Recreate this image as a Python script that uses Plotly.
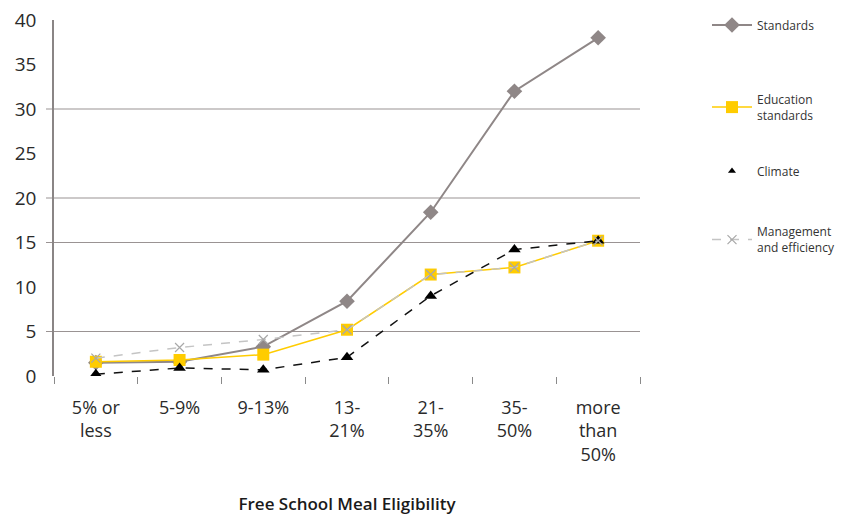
import plotly.graph_objects as go

categories = ["5% or<br>less", "5-9%", "9-13%", "13-<br>21%", "21-<br>35%", "35-<br>50%", "more<br>than<br>50%"]
standards = [1.5, 1.6, 3.3, 8.4, 18.4, 32.0, 38.0]
education_standards = [1.6, 1.8, 2.4, 5.2, 11.4, 12.2, 15.2]
climate = [0.2, 0.9, 0.7, 2.1, 9.0, 14.2, 15.2]
management = [2.0, 3.2, 4.1, 5.2, 11.4, 12.2, 15.2]
y_ticks = [0, 5, 10, 15, 20, 25, 30, 35, 40]
grid_values = [5, 15, 20, 30]

FONT = "Open Sans"
fig = go.Figure()

fig.add_trace(go.Scatter(
    x=categories, y=standards, name="Standards", mode="lines+markers",
    line=dict(color="#8f8787", width=2),
    marker=dict(symbol="diamond", size=12, color="#8f8787"),
    legend="legend"))
fig.add_trace(go.Scatter(
    x=categories, y=education_standards, name="Education<br>standards", mode="lines+markers",
    line=dict(color="#ffcc00", width=1.5),
    marker=dict(symbol="square", size=12, color="#ffcc00"),
    legend="legend2"))
fig.add_trace(go.Scatter(
    x=categories, y=climate, name="Climate", mode="lines+markers",
    line=dict(color="#111111", width=1.5, dash="dash"),
    marker=dict(symbol="triangle-up", size=11, color="#000000"),
    showlegend=False))
fig.add_trace(go.Scatter(
    x=[None], y=[None], name="Climate", mode="markers",
    marker=dict(symbol="triangle-up", size=7, color="#000000"),
    legend="legend3"))
fig.add_trace(go.Scatter(
    x=categories, y=management, name="Management<br>and efficiency", mode="lines+markers",
    line=dict(color="#c4c4c4", width=1.5, dash="dash"),
    marker=dict(symbol="x-thin", size=9, color="#a8a8a8", line=dict(width=1.2, color="#a8a8a8")),
    legend="legend4"))

for v in grid_values:
    fig.add_shape(type="line", xref="paper", yref="y", x0=-8/586, x1=1, y0=v, y1=v,
                  line=dict(color="#9a9393", width=1.2), layer="below")


def leg(ycenter):
    return dict(xref="container", yref="container", x=699/860, y=1 - ycenter/517,
                xanchor="left", yanchor="middle", bgcolor="rgba(0,0,0,0)",
                font=dict(size=12, color="#333333"), itemwidth=40)


fig.update_layout(
    width=860, height=517,
    margin=dict(l=46, r=228, t=12, b=149, autoexpand=False),
    plot_bgcolor="white", paper_bgcolor="white",
    font=dict(family=FONT, color="#333333"),
    legend=leg(17), legend2=leg(99.5), legend3=leg(163), legend4=leg(232),
    xaxis=dict(
        type="category", tickson="boundaries", ticks="outside", ticklen=7,
        tickcolor="#8a8a8a", showline=False, showgrid=False, automargin=False,
        tickfont=dict(size=18, color="#2a2a2a"),
        ticklabelstandoff=19, ticklabeloverflow="allow",
        range=[-0.5, 6.5],
        title=dict(text="Free School Meal Eligibility", standoff=33,
                   font=dict(size=17, color="#1a1a1a", weight=600)),
    ),
    yaxis=dict(
        range=[0, 40], tickvals=y_ticks, showgrid=False, zeroline=False,
        showline=True, linecolor="#8a8585", linewidth=1.5, automargin=False,
        tickfont=dict(size=19, color="#2a2a2a"), ticks="", ticklabelstandoff=12,
        ticklabeloverflow="allow",
    ),
)

fig.write_html("out.html")
